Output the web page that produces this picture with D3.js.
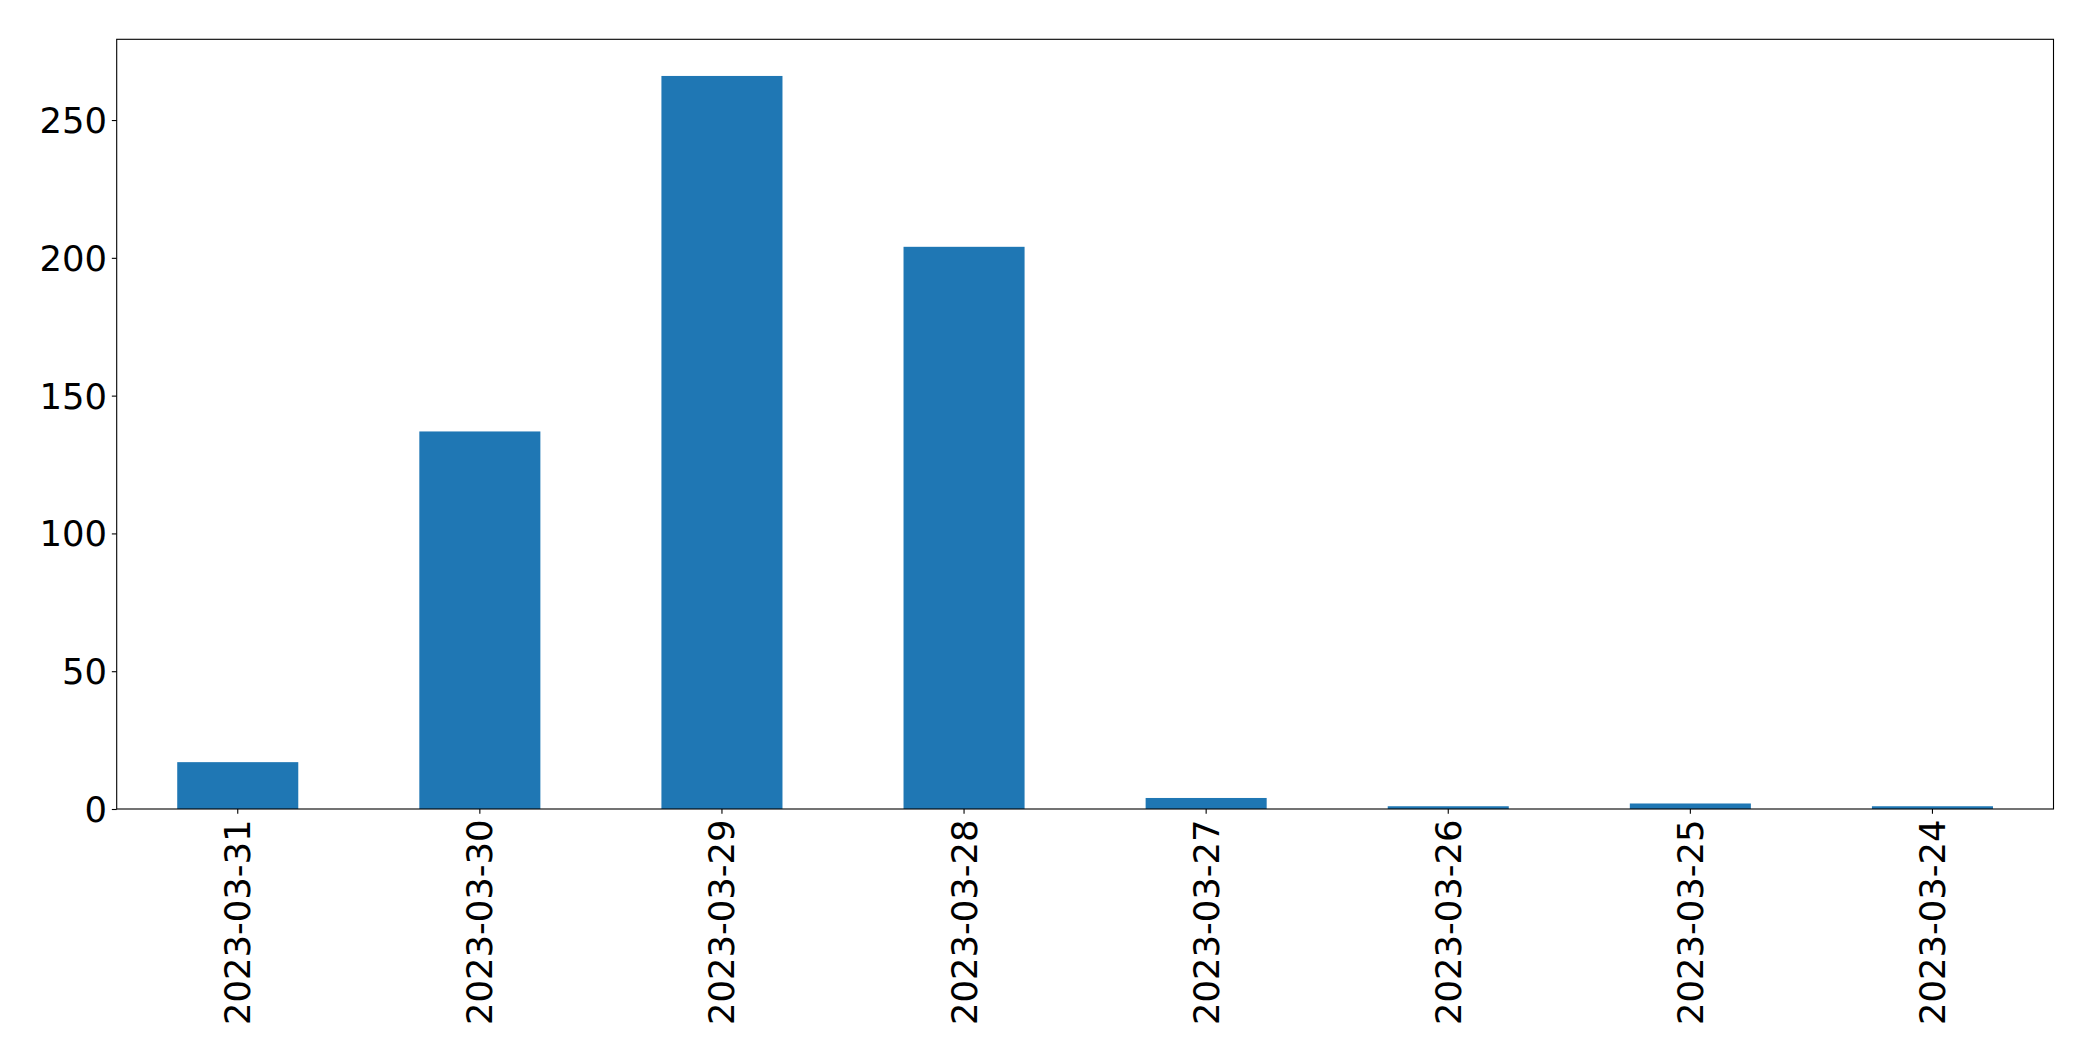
<!DOCTYPE html>
<html>
<head>
<meta charset="utf-8">
<script src="https://cdn.jsdelivr.net/npm/d3@7"></script>
<style>
  html, body { margin: 0; padding: 0; background: #fff; }
  svg { display: block; }
</style>
</head>
<body>
<svg id="chart" width="2093" height="1061"></svg>
<script>
const categories = ["2023-03-31", "2023-03-30", "2023-03-29", "2023-03-28", "2023-03-27", "2023-03-26", "2023-03-25", "2023-03-24"];
const values = [17, 137, 266, 204, 4, 1, 2, 1];
const yTicks = [0, 50, 100, 150, 200, 250];

const W = 2093, H = 1061;
const margin = { left: 116.7, right: W - 2053.5, top: 39.3, bottom: H - 809 };
const pw = W - margin.left - margin.right;
const ph = H - margin.top - margin.bottom;

const svg = d3.select("#chart");
const g = svg.append("g").attr("transform", `translate(${margin.left},${margin.top})`);

const x = d3.scaleBand().domain(categories).range([0, pw]).paddingInner(0.5).paddingOuter(0.25);
const y = d3.scaleLinear().domain([0, d3.max(values) * 1.05]).range([ph, 0]);

g.selectAll("rect.bar").data(values).enter().append("rect")
  .attr("class", "bar")
  .attr("x", (d, i) => x(categories[i]))
  .attr("width", x.bandwidth())
  .attr("y", d => y(d))
  .attr("height", d => ph - y(d))
  .attr("fill", "#1f77b4");

const font = "'DejaVu Sans', sans-serif";
const tickLen = 4.86;
const fontSize = "35.4px";

const yAxis = g.append("g").call(d3.axisLeft(y).tickValues(yTicks).tickSize(tickLen).tickPadding(4.86).tickFormat(d3.format("d")));
const xAxis = g.append("g").attr("transform", `translate(0,${ph})`)
  .call(d3.axisBottom(x).tickSize(tickLen).tickPadding(4.86));

[yAxis, xAxis].forEach(a => {
  a.select(".domain").remove();
  a.selectAll(".tick line").attr("stroke", "#000").attr("stroke-width", 1.1);
  a.selectAll("text").attr("fill", "#000").style("font-family", font).style("font-size", fontSize);
});

xAxis.selectAll(".tick text")
  .attr("y", null).attr("dy", null)
  .attr("text-anchor", "end")
  .attr("dominant-baseline", "central")
  .attr("transform", `translate(0,${tickLen + 5.5}) rotate(-90)`)
  .attr("x", 0);

yAxis.selectAll(".tick text").attr("dy", "0.35em");

// frame
g.append("rect").attr("x", 0).attr("y", 0).attr("width", pw).attr("height", ph)
  .attr("fill", "none").attr("stroke", "#000").attr("stroke-width", 1.1);
</script>
</body>
</html>
